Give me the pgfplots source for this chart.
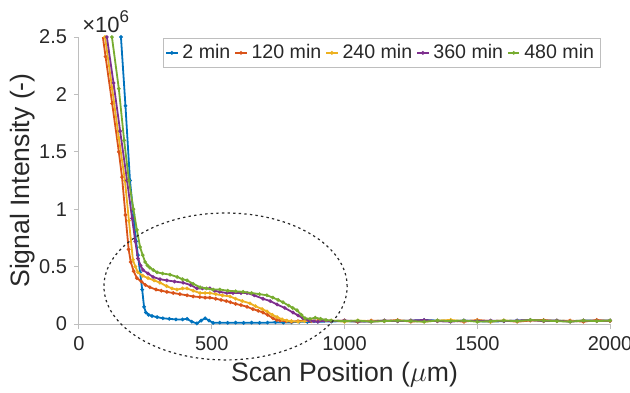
\documentclass[border=0pt]{standalone}
\usepackage{pgfplots}
\pgfplotsset{compat=1.18}
\usepackage{fontspec}
\setmainfont{Liberation Sans}
\definecolor{mblue}{RGB}{0,114,189}
\definecolor{morange}{RGB}{217,83,25}
\definecolor{myellow}{RGB}{237,177,32}
\definecolor{mpurple}{RGB}{126,47,142}
\definecolor{mgreen}{RGB}{119,172,48}
\definecolor{axgray}{RGB}{190,190,190}
\definecolor{txgray}{RGB}{40,40,40}
\begin{document}
\begin{tikzpicture}
\path[use as bounding box] (-39.5pt,-34pt) rectangle (275.5pt,162pt);
\begin{axis}[
  scale only axis,
  width=265.5pt, height=143.5pt,
  xmin=0, xmax=2000, ymin=0, ymax=2.5,
  axis x line*=bottom, axis y line*=left,
  axis line style={axgray, line width=0.5pt},
  xtick={0,500,1000,1500,2000},
  ytick={0,0.5,1,1.5,2,2.5},
  yticklabels={0,0.5,1,1.5,2,2.5},
  /pgf/number format/1000 sep={},
  /pgf/number format/assume math mode=true,
  tick align=outside,
  major tick length=2.5pt,
  tick style={axgray, line width=0.5pt},
  ticklabel style={font=\fontsize{10}{12}\selectfont, text=txgray},
  xlabel={Scan Position ($\mu$m)},
  ylabel={Signal Intensity (-)},
  label style={font=\fontsize{13.3}{15}\selectfont, text=txgray},
  xlabel style={yshift=1pt},
  ylabel style={yshift=-5pt},
  clip mode=individual,
  every axis plot/.append style={line width=0.9pt, mark=*, mark size=0.4pt},
  legend columns=5,
  legend style={at={(0.158,0.997)}, anchor=north west, draw=axgray,
    font=\fontsize{9.8}{11}\selectfont, text=txgray, inner sep=1pt,
    /tikz/every even column/.append style={column sep=0pt}},
  legend image code/.code={\draw[#1, mark repeat=2, mark phase=2] plot coordinates {(0cm,0cm) (0.1cm,0cm) (0.2cm,0cm)};},
]
\addplot[mblue] coordinates {
(145,2.75)(158,2.5)(175,1.9)(192,1.25)(205,0.95)(215,0.72)(222,0.60)(230,0.45)(238,0.30)(245,0.15)(252,0.10)(262,0.08)(275,0.07)(294,0.06)(316,0.05)(340,0.045)(365,0.04)(390,0.04)(407,0.045)(425,0.02)(444,0.005)(460,0.03)(475,0.05)(490,0.03)
(505,0.01)(530,0.012)(560,0.01)(590,0.012)(620,0.01)(650,0.012)(680,0.01)(710,0.012)(740,0.015)(770,0.012)(800,0.015)(830,0.02)(860,0.018)(900,0.02)(950,0.022)(1000,0.025)(1050,0.02)(1100,0.025)(1150,0.03)(1200,0.025)(1250,0.03)(1300,0.035)(1350,0.03)(1400,0.025)(1450,0.03)(1500,0.025)(1550,0.02)(1600,0.025)(1650,0.03)(1700,0.035)(1750,0.03)(1800,0.03)(1850,0.025)(1900,0.03)(1950,0.03)(2000,0.03)
};
\addlegendentry{2 min}
\addplot[morange] coordinates {
(75,2.75)(100,2.33)(125,1.92)(150,1.5)(162,1.28)(175,0.95)(187,0.65)(195,0.54)(206,0.46)(218,0.40)(235,0.37)(250,0.34)(267,0.32)(290,0.30)(310,0.29)(331,0.28)(355,0.27)(380,0.26)(407,0.25)(430,0.24)(455,0.235)(475,0.23)(493,0.23)(515,0.22)(535,0.21)(555,0.20)(570,0.19)(590,0.175)(610,0.165)(633,0.15)(655,0.13)(675,0.115)(693,0.10)(710,0.08)(731,0.05)(745,0.035)(757,0.03)(780,0.025)
(800,0.02)(825,0.025)(850,0.03)(875,0.025)(900,0.03)(950,0.025)(1000,0.03)(1050,0.02)(1100,0.03)(1150,0.025)(1200,0.035)(1250,0.02)(1300,0.03)(1350,0.025)(1400,0.03)(1450,0.02)(1500,0.035)(1550,0.025)(1600,0.03)(1650,0.02)(1700,0.03)(1750,0.035)(1800,0.025)(1850,0.03)(1900,0.02)(1950,0.035)(2000,0.025)
};
\addlegendentry{120 min}
\addplot[myellow] coordinates {
(80,2.8)(98,2.5)(125,2.05)(150,1.62)(173,1.25)(188,0.9)(203,0.56)(212,0.50)(222,0.45)(240,0.42)(260,0.40)(283,0.38)(305,0.36)(330,0.33)(350,0.31)(369,0.30)(390,0.31)(407,0.31)(430,0.29)(456,0.27)(475,0.27)(493,0.27)(515,0.26)(540,0.25)(569,0.24)(590,0.22)(615,0.20)(644,0.18)(665,0.155)(690,0.13)(708,0.11)(728,0.08)(746,0.06)(765,0.04)(783,0.03)
(800,0.025)(825,0.02)(850,0.025)(875,0.03)(900,0.025)(950,0.03)(1000,0.02)(1050,0.03)(1100,0.025)(1150,0.03)(1200,0.025)(1250,0.03)(1300,0.02)(1350,0.03)(1400,0.035)(1450,0.025)(1500,0.03)(1550,0.02)(1600,0.03)(1650,0.025)(1700,0.035)(1750,0.025)(1800,0.03)(1850,0.025)(1900,0.03)(1950,0.025)(2000,0.03)
};
\addlegendentry{240 min}
\addplot[mpurple] coordinates {
(88,2.8)(105,2.5)(130,2.1)(155,1.68)(181,1.25)(200,0.92)(212,0.72)(222,0.57)(232,0.51)(241,0.47)(260,0.44)(279,0.41)(305,0.39)(331,0.38)(360,0.37)(392,0.36)(420,0.34)(444,0.31)(465,0.31)(493,0.31)(510,0.29)(530,0.28)(557,0.27)(580,0.27)(610,0.27)(633,0.27)(660,0.25)(693,0.22)(720,0.20)(746,0.17)(775,0.14)(806,0.10)(825,0.075)(844,0.05)(865,0.03)(885,0.025)
(900,0.02)(925,0.03)(950,0.025)(1000,0.03)(1050,0.025)(1100,0.02)(1150,0.03)(1200,0.025)(1250,0.03)(1300,0.035)(1350,0.025)(1400,0.02)(1450,0.03)(1500,0.025)(1550,0.03)(1600,0.025)(1650,0.03)(1700,0.035)(1750,0.025)(1800,0.03)(1850,0.02)(1900,0.03)(1950,0.025)(2000,0.03)
};
\addlegendentry{360 min}
\addplot[mgreen] coordinates {
(108,2.8)(124,2.5)(150,2.05)(170,1.6)(188,1.25)(205,1.0)(218,0.82)(230,0.67)(240,0.60)(249,0.54)(258,0.51)(267,0.49)(280,0.47)(294,0.45)(315,0.44)(343,0.43)(370,0.41)(390,0.39)(407,0.38)(430,0.35)(456,0.32)(480,0.31)(505,0.30)(531,0.30)(560,0.29)(590,0.285)(618,0.28)(650,0.27)(680,0.26)(708,0.25)(730,0.23)(750,0.21)(768,0.19)(790,0.16)(805,0.14)(821,0.12)(838,0.08)(851,0.05)(870,0.045)(890,0.055)(910,0.045)(930,0.035)(950,0.03)
(1000,0.025)(1050,0.03)(1100,0.02)(1150,0.025)(1200,0.03)(1250,0.025)(1300,0.02)(1350,0.03)(1400,0.025)(1450,0.03)(1500,0.02)(1550,0.025)(1600,0.03)(1650,0.025)(1700,0.035)(1750,0.03)(1800,0.025)(1850,0.02)(1900,0.03)(1950,0.025)(2000,0.03)
};
\addlegendentry{480 min}
\draw[txgray, line width=0.6pt, dash pattern=on 1.2pt off 1.6pt] (axis cs:552,0.327) ellipse [x radius=458, y radius=0.64];
\node[anchor=south west, inner sep=0pt, text=txgray, font=\fontsize{11}{12}\selectfont] at (rel axis cs:0,1) [xshift=1.5pt, yshift=2pt] {×10\raisebox{5pt}{\fontsize{8.5}{9}\selectfont 6}};
\end{axis}
\end{tikzpicture}
\end{document}
